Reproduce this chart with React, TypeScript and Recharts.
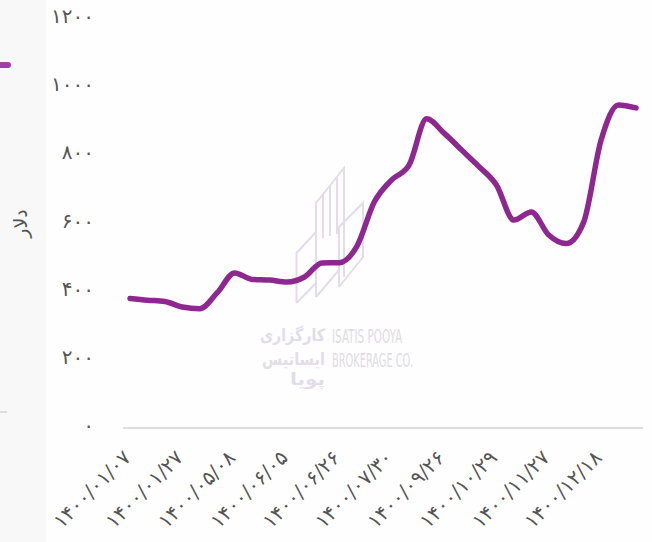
import React from 'react';
import { LineChart, Line, XAxis, YAxis } from 'recharts';

const dates = [
  '۱۴۰۰/۰۱/۰۷', 'd1', 'd2', '۱۴۰۰/۰۱/۲۷', 'd4', 'd5', '۱۴۰۰/۰۵/۰۸', 'd7', 'd8', '۱۴۰۰/۰۶/۰۵',
  'd10', 'd11', '۱۴۰۰/۰۶/۲۶', 'd13', 'd14', '۱۴۰۰/۰۷/۳۰', 'd16', 'd17', '۱۴۰۰/۰۹/۲۶', 'd19',
  'd20', '۱۴۰۰/۱۰/۲۹', 'd22', 'd23', '۱۴۰۰/۱۱/۲۷', 'd25', 'd26', '۱۴۰۰/۱۲/۱۸', 'd28', 'd29',
];
const prices = [
  380, 375, 371, 355, 350, 397, 455, 436, 434, 428,
  443, 484, 485, 533, 663, 728, 772, 907, 865, 816,
  767, 713, 610, 634, 566, 541, 604, 845, 948, 939,
];
const yTicks = [0, 200, 400, 600, 800, 1000, 1200];
const yTickLabels = ['۰', '۲۰۰', '۴۰۰', '۶۰۰', '۸۰۰', '۱۰۰۰', '۱۲۰۰'];
const yAxisTitle = 'دلار';
const seriesName = 'قیمت';

const data = dates.map((d, i) => ({ date: d, value: prices[i] }));

const FONT = '"DejaVu Sans", sans-serif';
const TEXT = '#555555';
const PURPLE = '#8e2890';

const XTick = (props: any) => {
  const { x, payload } = props;
  const px = x + 2;
  const py = 459;
  return (
    <text
      x={px}
      y={py}
      transform={`rotate(-45, ${px}, ${py})`}
      textAnchor="end"
      fill={TEXT}
      fontSize={20}
      fontFamily={FONT}
      letterSpacing={3.2}
      direction="ltr"
    >
      {payload.value}
    </text>
  );
};

const YTick = (props: any) => {
  const { y, payload } = props;
  const idx = yTicks.indexOf(payload.value);
  const label = yTickLabels[idx] ?? String(payload.value);
  return (
    <text
      x={94}
      y={y - 3}
      dy="0.355em"
      textAnchor="end"
      fill={TEXT}
      fontSize={20}
      fontFamily={FONT}
      letterSpacing={2.5}
    >
      {label}
    </text>
  );
};

const Background = () => (
  <svg width={652} height={542} style={{ position: 'absolute', left: 0, top: 0 }}>
    <rect x={0} y={0} width={652} height={542} fill="#fefefe" />
    <rect x={0} y={0} width={46} height={542} fill="#f8f8f8" />
    <line x1={0} y1={65} x2={8} y2={65} stroke="#a23fa4" strokeWidth={6} strokeLinecap="round" />
    <line x1={0} y1={412} x2={7} y2={412} stroke="#dddddd" strokeWidth={2} />
    <g stroke="#e6dbea" strokeWidth={2} fill="none">
      <polyline points="296.5,303 296.5,253 316,232" />
      <polyline points="296.5,303 316,283" />
      <polyline points="316,297 316,203 344,168 344,277" />
      <line x1={323} y1={238} x2={323} y2={195} />
      <line x1={330} y1={236} x2={330} y2={186} />
      <line x1={337} y1={234} x2={337} y2={178} />
      <polyline points="339,287 339,227 363,203 363,257 339,287" />
      <polyline points="316,297 339,270" />
    </g>
    <g fill="#e2dde9" fontFamily={FONT} fontWeight="bold" textAnchor="end">
      <text x={325} y={341} fontSize={17} textLength={65} lengthAdjust="spacingAndGlyphs">کارگزاری</text>
      <text x={325} y={365} fontSize={17} textLength={63} lengthAdjust="spacingAndGlyphs">ایساتیس</text>
      <text x={325} y={385} fontSize={17} textLength={35} lengthAdjust="spacingAndGlyphs">پویا</text>
    </g>
    <g fill="#e0dce5" fontFamily='"Liberation Sans Narrow", "DejaVu Sans Condensed", sans-serif'>
      <text x={332} y={343} fontSize={20} textLength={70} lengthAdjust="spacingAndGlyphs">ISATIS POOYA</text>
      <text x={332} y={367} fontSize={20} textLength={81} lengthAdjust="spacingAndGlyphs">BROKERAGE CO.</text>
    </g>
  </svg>
);

export default function App() {
  return (
    <div style={{ position: 'absolute', left: 0, top: 0, width: 652, height: 542, overflow: 'hidden' }}>
      <Background />
      <div style={{ position: 'absolute', left: 0, top: 0 }}>
        <LineChart
          width={652}
          height={542}
          data={data}
          margin={{ top: 19, right: 9, bottom: 0, left: 0 }}
        >
          <XAxis
            dataKey="date"
            height={114}
            interval={2}
            padding={{ left: 7, right: 7 }}
            tickLine={false}
            axisLine={{ stroke: '#dddddd', strokeWidth: 2 }}
            tick={<XTick />}
          />
          <YAxis
            width={123}
            domain={[0, 1200]}
            ticks={yTicks}
            axisLine={false}
            tickLine={false}
            tick={<YTick />}
            label={{
              value: yAxisTitle,
              angle: -90,
              position: 'insideLeft',
              offset: 0,
              dx: 20,
              style: { fill: TEXT, fontSize: 19, fontFamily: FONT, textAnchor: 'middle' },
            }}
          />
          <Line
            type="monotone"
            dataKey="value"
            name={seriesName}
            stroke={PURPLE}
            strokeWidth={5.5}
            dot={false}
            activeDot={false}
            isAnimationActive={false}
            strokeLinecap="round"
          />
        </LineChart>
      </div>
    </div>
  );
}
